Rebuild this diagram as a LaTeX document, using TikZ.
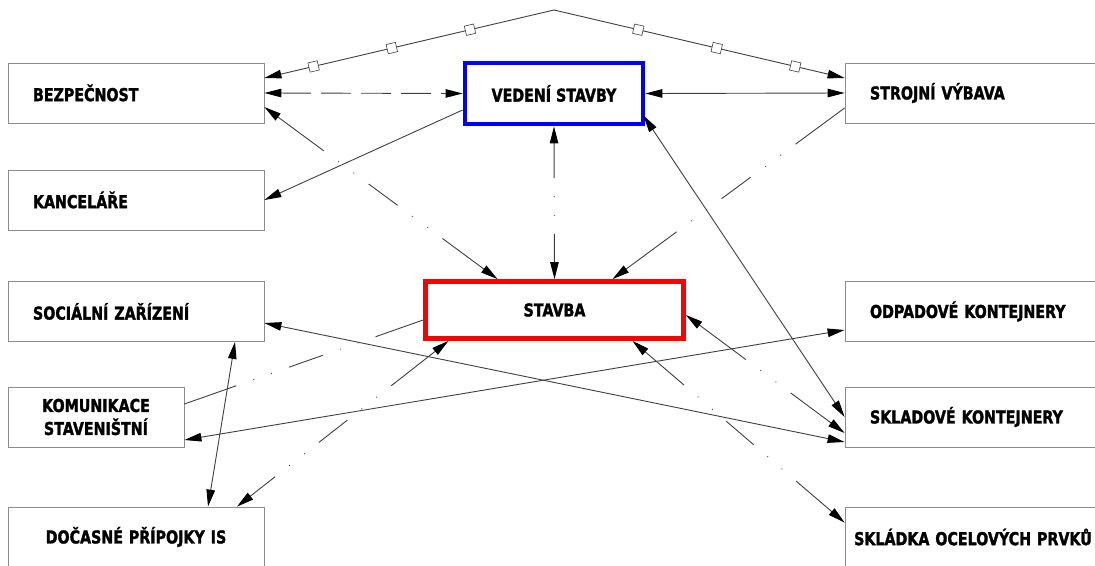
\documentclass[tikz,border=0pt]{standalone}
\usepackage{fontspec}
\newfontfamily\lab[FakeStretch=0.8,FakeBold=1.6]{DejaVu Sans}
\usetikzlibrary{arrows.meta}
\definecolor{boxgray}{HTML}{8C8C8C}
\definecolor{wire}{HTML}{404040}
\definecolor{vblue}{HTML}{0000FF}
\definecolor{sred}{HTML}{FF0000}

\begin{document}
\begin{tikzpicture}[x=1pt,y=-1pt,
  >={Triangle[length=17pt,width=8.5pt,color=black]},
  lbl/.style={font=\lab\bfseries\fontsize{17.8}{23}\selectfont},
  box/.style={lbl,draw=boxgray,line width=0.8pt,fill=white,minimum height=60pt,
    text width=206pt,inner xsep=25pt,inner ysep=0pt,align=left},
  cbox/.style={box,text width=250pt,inner xsep=3pt,align=center},
  mainbox/.style={lbl,fill=white,line width=4.8pt,inner sep=0pt,align=center},
  conn/.style={draw=wire,line width=0.9pt},
  sq/.style={draw=wire,fill=white,line width=0.6pt,minimum size=9.5pt,inner sep=0pt},
  ph3/.style={dash pattern=on #1 off 18pt on 0.9pt off 18pt on 0.9pt off 18pt
    on 36pt off 18pt on 0.9pt off 18pt on 0.9pt off 18pt on 400pt off 1pt},
  ph2/.style={dash pattern=on #1 off 18pt on 0.9pt off 18pt on 0.9pt off 18pt
    on 400pt off 1pt},
]
\useasboundingbox (0,0) rectangle (1095,565);
\fill[white] (0,0) rectangle (1095,565);
\clip (0,0) rectangle (1095,565);

% left column
\node[box] (bez)  at (136,93)    {BEZPEČNOST};
\node[box] (kanc) at (136,200)   {KANCELÁŘE};
\node[box] (soc)  at (136,311.5) {SOCIÁLNÍ ZAŘÍZENÍ};
\node[box,text width=170pt,inner xsep=3pt,align=center] (kom) at (96,417)
  {KOMUNIKACE\\STAVENIŠTNÍ};
\node[cbox] (doc) at (136,537) {DOČASNÉ PŘÍPOJKY IS};

% right column
\node[box] (stroj) at (973,93)    {STROJNÍ VÝBAVA};
\node[box] (odp)   at (973,311.5) {ODPADOVÉ KONTEJNERY};
\node[box] (skl)   at (973,417)   {SKLADOVÉ KONTEJNERY};
\node[cbox] (skd)  at (973,537)   {SKLÁDKA OCELOVÝCH PRVKŮ};

% centre
\node[mainbox,draw=vblue,minimum width=178pt,minimum height=61pt] (ved) at (554,93.5) {VEDENÍ STAVBY};
\node[mainbox,draw=sred,minimum width=258pt,minimum height=57pt] (stav) at (554.5,310) {STAVBA};

\coordinate (apex) at (554,10);

% roof line with square markers
\draw[conn,->] (apex) -- node[sq,sloped,pos=.29]{} node[sq,sloped,pos=.56]{}
  node[sq,sloped,pos=.83]{} ([yshift=15pt]bez.east);
\draw[conn,->] (apex) -- node[sq,sloped,pos=.29]{} node[sq,sloped,pos=.56]{}
  node[sq,sloped,pos=.83]{} ([yshift=15pt]stroj.west);

% solid and dashed links
\draw[conn,<->,dash pattern=on 30pt off 10pt] (bez.east) -- (ved.west);
\draw[conn,<->] (ved.east) -- (stroj.west);
\draw[conn,->] ([yshift=-16.5pt]ved.west) -- (kanc.east);
\draw[conn,<->] ([xshift=-2pt,yshift=-22pt]ved.east) -- (skl.west);
\draw[conn,<->] ([yshift=-11.5pt]soc.east) -- ([yshift=-25pt]skl.west);
\draw[conn,<->] ([yshift=-23pt]kom.east) -- ([yshift=-18.5pt]odp.west);
\draw[conn,<->] ([xshift=99pt]soc.south) -- ([xshift=72pt]doc.north);

% dash-dot-dot links
\draw[conn,<->,ph3=57pt] ([yshift=-14pt]bez.east) -- ([xshift=-57pt]stav.north);
\draw[conn,<->,ph2=35pt] (ved.south) -- (stav.north);
\draw[conn,->,ph3=61pt] ([yshift=-15pt]stroj.west) -- ([xshift=58pt]stav.north);
\draw[conn,ph3=55pt] ([yshift=13pt]kom.east) -- ([yshift=-10pt]stav.west);
\draw[conn,<->,ph3=56pt] ([xshift=-106pt]stav.south) -- ([xshift=101pt]doc.north);
\draw[conn,<->,ph2=58pt] ([yshift=-5pt]stav.east) -- ([yshift=-16pt]skl.west);
\draw[conn,<->,ph3=51pt] ([xshift=78pt]stav.south) -- ([yshift=-16pt]skd.north west);
\end{tikzpicture}
\end{document}
